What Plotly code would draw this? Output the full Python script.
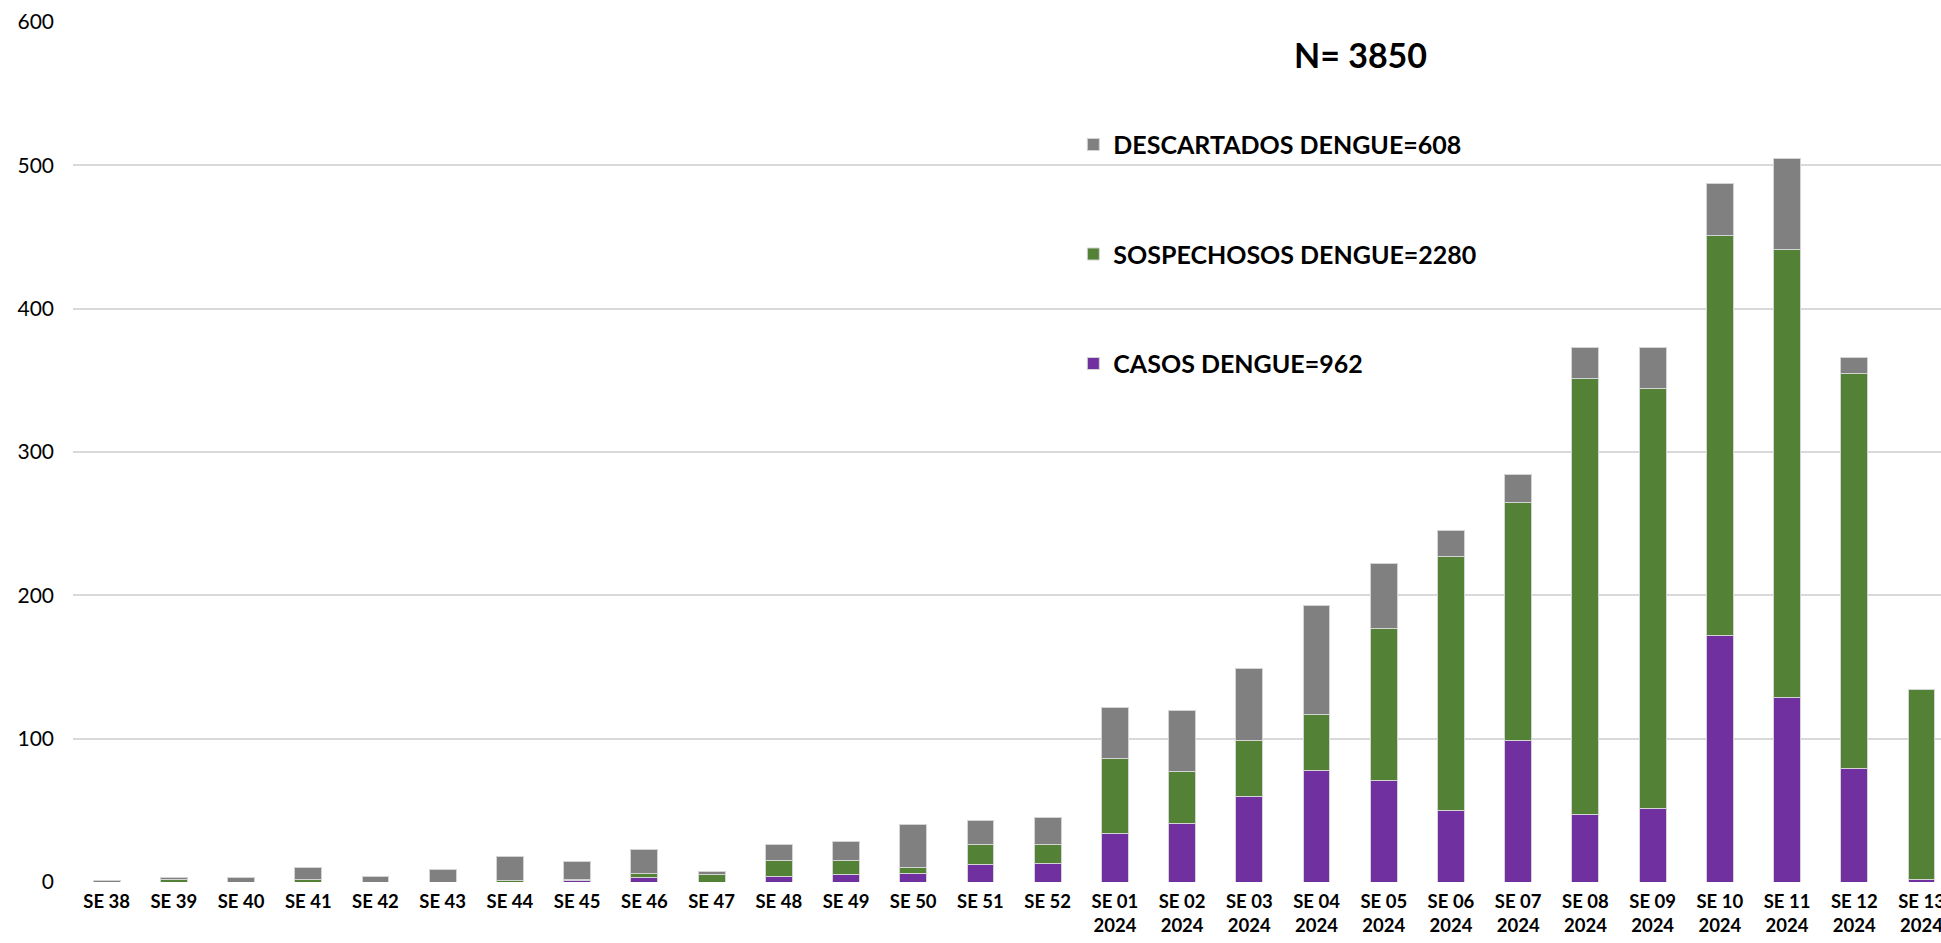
import plotly.graph_objects as go

semanas = ["SE 38", "SE 39", "SE 40", "SE 41", "SE 42", "SE 43", "SE 44", "SE 45",
           "SE 46", "SE 47", "SE 48", "SE 49", "SE 50", "SE 51", "SE 52",
           "SE 01<br>2024", "SE 02<br>2024", "SE 03<br>2024", "SE 04<br>2024",
           "SE 05<br>2024", "SE 06<br>2024", "SE 07<br>2024", "SE 08<br>2024",
           "SE 09<br>2024", "SE 10<br>2024", "SE 11<br>2024", "SE 12<br>2024",
           "SE 13<br>2024"]

casos = [0, 0, 0, 0, 0, 0, 0, 1, 3, 0, 4, 5, 6, 12, 13,
         34, 41, 60, 78, 71, 50, 99, 47, 51, 172, 129, 79, 2]

sospechosos = [0, 2, 0, 2, 0, 0, 1, 1, 3, 5, 11, 10, 4, 14, 13,
               52, 36, 39, 39, 106, 177, 166, 304, 293, 279, 312, 276, 132]

descartados = [1, 1, 3, 8, 4, 9, 17, 12, 17, 2, 11, 13, 30, 17, 19,
               36, 43, 50, 76, 45, 18, 19, 22, 29, 36, 64, 11, 0]

nombres = ["CASOS DENGUE=962", "SOSPECHOSOS DENGUE=2280", "DESCARTADOS DENGUE=608"]
colores = ["#7030A0", "#538135", "#808080"]
titulo = "N= 3850"

x_idx = list(range(len(semanas)))

fig = go.Figure()
for i, (vals, nombre, color) in enumerate(zip([casos, sospechosos, descartados], nombres, colores)):
    fig.add_trace(go.Bar(
        x=x_idx, y=vals, name=nombre, legendgroup=f"g{i}", legendrank=10 - i,
        marker=dict(color=color, line=dict(color="#d4d4d4", width=1)),
    ))

fig.update_layout(
    width=1941, height=943,
    barmode="stack", bargap=0.6,
    plot_bgcolor="white", paper_bgcolor="white",
    margin=dict(l=73, r=0, t=22, b=61, autoexpand=False),
    font=dict(family="Lato", color="black"),
    showlegend=True,
    legend=dict(
        x=0.5355, y=0.884, xanchor="left", yanchor="top",
        traceorder="grouped", tracegroupgap=74,
        font=dict(family="Lato", size=25, color="black", weight="bold"),
        bgcolor="rgba(0,0,0,0)", itemclick=False, itemdoubleclick=False,
    ),
    annotations=[dict(
        text=f"<b>{titulo}</b>", x=0.689, y=0.962, xref="paper", yref="paper",
        xanchor="center", yanchor="middle", showarrow=False,
        font=dict(family="Lato", size=34, color="black"),
    )],
)

fig.update_xaxes(
    tickmode="array", tickvals=x_idx, ticktext=[f"<b>{s}</b>" for s in semanas],
    range=[-0.5, 27.29], showgrid=False, zeroline=False, showline=False,
    ticks="", tickfont=dict(family="Lato", size=18.5, color="black"),
    automargin=False, ticklabelstandoff=6, ticklabeloverflow="allow",
)
fig.update_yaxes(
    range=[0, 600], dtick=100, showgrid=True, gridcolor="#d9d9d9", gridwidth=1.5,
    zeroline=False, showline=False, ticks="",
    tickfont=dict(family="Lato", size=21, color="black"),
    automargin=False, ticklabelstandoff=18,
)

fig.write_html("out.html", config={"displayModeBar": False},
               post_script="document.body.style.margin='0';")
